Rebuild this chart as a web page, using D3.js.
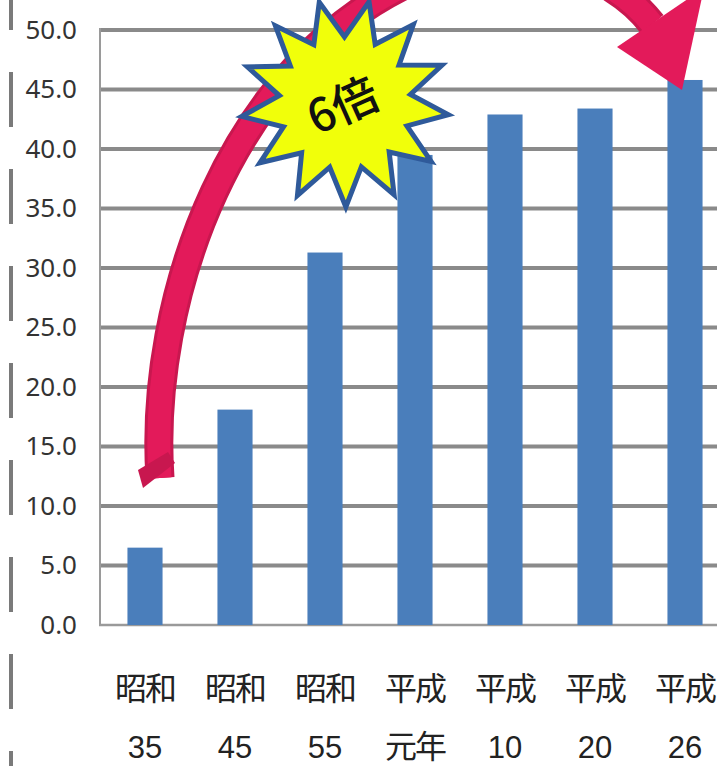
<!DOCTYPE html>
<html>
<head>
<meta charset="utf-8">
<script src="https://cdn.jsdelivr.net/npm/d3@7"></script>
<style>
  body { margin: 0; background: #fff; }
  svg { display: block; }
</style>
</head>
<body>
<div id="app"></div>
<script>
// era labels (two lines each) and values
var eraNames = ["昭和", "昭和", "昭和", "平成", "平成", "平成", "平成"];
var eraYears = ["35", "45", "55", "元年", "10", "20", "26"];
var values = [6.5, 18.1, 31.3, 39.5, 42.9, 43.4, 45.8];
var yTicks = [0, 5, 10, 15, 20, 25, 30, 35, 40, 45, 50];
var badgeText = "6倍";

var W = 717, H = 766;
var svg = d3.select('#app').append('svg').attr('width', W).attr('height', H);

var x = d3.scaleBand().domain(d3.range(values.length)).range([100, 730]).paddingInner(0.61).paddingOuter(0.305);
var y = d3.scaleLinear().domain([0, 50]).range([625, 30]);

// dashed line on the far left
svg.append('line').attr('x1', 11).attr('x2', 11).attr('y1', 0).attr('y2', H)
  .attr('stroke', '#7a7a7a').attr('stroke-width', 4)
  .attr('stroke-dasharray', '55,42').attr('stroke-dashoffset', 25);

// gridlines
svg.append('g').selectAll('line').data(yTicks.slice(1)).enter().append('line')
  .attr('x1', 100).attr('x2', W)
  .attr('y1', function(d) { return y(d); }).attr('y2', function(d) { return y(d); })
  .attr('stroke', '#8a8a8a').attr('stroke-width', 4);

// axis lines
svg.append('line').attr('x1', 100).attr('x2', 100).attr('y1', y(50) - 2).attr('y2', y(0) + 1)
  .attr('stroke', '#9a9a9a').attr('stroke-width', 2);
svg.append('line').attr('x1', 99).attr('x2', W).attr('y1', y(0)).attr('y2', y(0))
  .attr('stroke', '#9a9a9a').attr('stroke-width', 2.5);

// y tick labels
var yAxis = d3.axisLeft(y).tickValues(yTicks).tickFormat(d3.format('.1f')).tickSize(0).tickPadding(23);
var ya = svg.append('g').attr('transform', 'translate(100,0)').call(yAxis);
ya.select('.domain').remove();
ya.selectAll('text').attr('font-family', '"Liberation Sans Narrow", "Noto Sans", sans-serif')
  .attr('font-size', 26).attr('fill', '#333');

// bars
svg.append('g').selectAll('rect').data(values).enter().append('rect')
  .attr('x', function(d, i) { return x(i); })
  .attr('y', function(d) { return y(d); })
  .attr('width', x.bandwidth())
  .attr('height', function(d) { return y(0) - y(d); })
  .attr('fill', '#4a7ebb');

// x labels, two lines
var xl = svg.append('g').selectAll('g').data(eraNames).enter().append('g')
  .attr('transform', function(d, i) { return 'translate(' + (x(i) + x.bandwidth() / 2) + ',0)'; });
xl.append('text').attr('y', 700).attr('text-anchor', 'middle')
  .attr('font-family', '"Noto Sans CJK JP", sans-serif').attr('font-size', 32).attr('fill', '#222')
  .attr('letter-spacing', -2)
  .text(function(d) { return d; });
xl.append('text').attr('y', 758).attr('text-anchor', 'middle')
  .attr('font-family', function(d, i) { return i === 3 ? '"Noto Sans CJK JP", sans-serif' : '"Liberation Sans Narrow", sans-serif'; })
  .attr('font-size', function(d, i) { return i === 3 ? 32 : 31; })
  .attr('fill', '#222').attr('letter-spacing', function(d, i) { return i === 3 ? -2 : 0; })
  .text(function(d, i) { return eraYears[i]; });

// red curved arrow from the first bar to the last
var red = '#e31a5a';
var arc = 'M160,478 C148,300 230,60 420,-22 C520,-62 610,-30 652,24';
svg.append('path').attr('d', arc)
  .attr('fill', 'none').attr('stroke', '#c8174f').attr('stroke-width', 29);
svg.append('path').attr('d', arc)
  .attr('fill', 'none').attr('stroke', red).attr('stroke-width', 23);
svg.append('path')
  .attr('d', 'M617,47 L682,90 L704,-12 Z')
  .attr('fill', red);
// squared-off tail end
svg.append('path').attr('d', 'M143,488 L175,463 L168,452 L138,470 Z').attr('fill', '#c8174f');

// starburst badge
var nPts = 13, rOut = 104, rIn = 66, cx = 345, cy = 103;
var starPts = d3.range(nPts * 2).map(function(k) {
  var a = -Math.PI / 2 + k * Math.PI / nPts - 0.25;
  var r = k % 2 === 0 ? rOut : rIn;
  return [cx + r * Math.cos(a), cy + r * Math.sin(a)];
});
svg.append('path').attr('d', d3.line()(starPts) + 'Z')
  .attr('fill', '#f1ff0a').attr('stroke', '#2f5a9a').attr('stroke-width', 5).attr('stroke-linejoin', 'miter');
svg.append('text').attr('x', cx - 3).attr('y', cy + 18).attr('text-anchor', 'middle')
  .attr('transform', 'rotate(-24,' + cx + ',' + cy + ')')
  .attr('font-family', '"Noto Sans CJK JP", sans-serif').attr('font-size', 46).attr('font-weight', 500)
  .attr('fill', '#111').text(badgeText);
</script>
</body>
</html>
